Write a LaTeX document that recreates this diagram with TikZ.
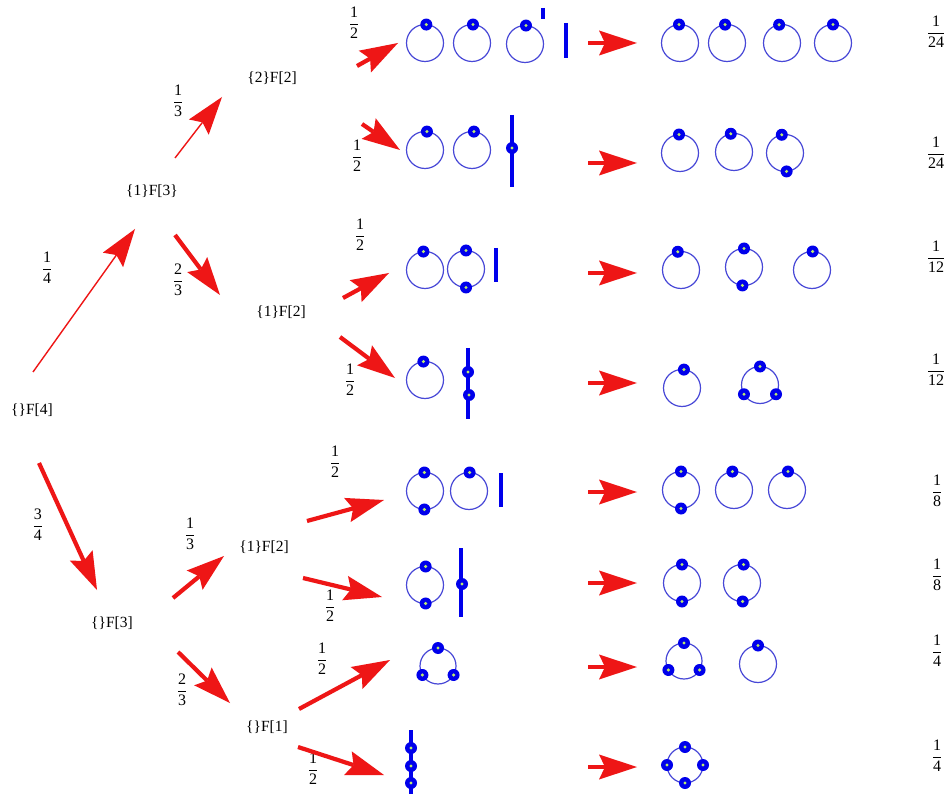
\documentclass[tikz,border=0pt]{standalone}
\usepackage{fontspec}
\setmainfont{Liberation Serif}
\usetikzlibrary{arrows.meta}
\definecolor{arr}{RGB}{238,22,22}
\definecolor{ringc}{RGB}{72,72,215}
\definecolor{dotb}{RGB}{0,0,235}
\definecolor{dotc}{RGB}{190,235,110}
\setlength{\arrayrulewidth}{0.9pt}
\newcommand\fr[2]{\begin{tabular}{@{}c@{}}#1\\\hline #2\end{tabular}}
\newcommand\loopc[4]{% name, position, radius, angles
  \coordinate (#1) at #2;
  \draw[ringline] (#1) circle (#3);
  \foreach \a in {#4}{\fill[dotb] ([shift={(\a:#3)}]#1) circle (6pt);
    \fill[dotc] ([shift={(\a:#3)}]#1) circle (1.7pt);}}
\newcommand\bdot[1]{\fill[dotb] #1 circle (6pt); \fill[dotc] #1 circle (1.7pt);}
\tikzset{
  lbl/.style={inner sep=0pt, font=\fontsize{15.5}{18}\selectfont},
  prob/.style={inner sep=0pt, font=\fontsize{16}{20}\selectfont},
  tipr/.tip={Stealth[length=38pt 0 0,width=25pt 0 0,inset=6pt 0,line width=0pt]},
  thinarr/.style={draw=arr, fill=arr, line width=1.4pt, -tipr},
  thickarr/.style={draw=arr, fill=arr, line width=4.2pt, -tipr},
  ringline/.style={draw=ringc, line width=1.2pt},
  vbar/.style={draw=dotb, line width=3.8pt},
}
\begin{document}
\begin{tikzpicture}[x=1pt,y=-1pt]
\useasboundingbox (0,0) rectangle (948,794);
\fill[white] (0,0) rectangle (948,794);
% tree labels
\node[lbl] (f4) at (32,410) {\{\}F[4]};
\node[lbl] (f13) at (152,191) {\{1\}F[3\}};
\node[lbl] (f22) at (272,78) {\{2\}F[2]};
\node[lbl] (f12a) at (281,312) {\{1\}F[2]};
\node[lbl] (f3) at (112,623) {\{\}F[3]};
\node[lbl] (f12b) at (264,547) {\{1\}F[2]};
\node[lbl] (f1) at (267,727) {\{\}F[1]};
% probability labels
\node[prob] (p14) at (47,269) {\fr{1}{4}};
\node[prob] (p34) at (38,526) {\fr{3}{4}};
\node[prob] (p13a) at (178,102) {\fr{1}{3}};
\node[prob] (p23a) at (178,281) {\fr{2}{3}};
\node[prob] (p13b) at (190,535) {\fr{1}{3}};
\node[prob] (p23b) at (182,691) {\fr{2}{3}};
\node[prob] (q1) at (354,24) {\fr{1}{2}};
\node[prob] (q2) at (357,157) {\fr{1}{2}};
\node[prob] (q3) at (360,236) {\fr{1}{2}};
\node[prob] (q4) at (350,381) {\fr{1}{2}};
\node[prob] (q5) at (335,463) {\fr{1}{2}};
\node[prob] (q6) at (330,607) {\fr{1}{2}};
\node[prob] (q7) at (322,660) {\fr{1}{2}};
\node[prob] (q8) at (313,770) {\fr{1}{2}};
\node[prob] (r1) at (936,33) {\fr{1}{24}};
\node[prob] (r2) at (936,154) {\fr{1}{24}};
\node[prob] (r3) at (936,258) {\fr{1}{12}};
\node[prob] (r4) at (936,371) {\fr{1}{12}};
\node[prob] (r5) at (937,492) {\fr{1}{8}};
\node[prob] (r6) at (937,576) {\fr{1}{8}};
\node[prob] (r7) at (937,652) {\fr{1}{4}};
\node[prob] (r8) at (937,757) {\fr{1}{4}};
% arrow end points
\coordinate (a1s) at (33,372);  \coordinate (a1e) at (135,229);
\coordinate (a2s) at (39,463);  \coordinate (a2e) at (97,590);
\coordinate (b1s) at (175,158); \coordinate (b1e) at (222,97);
\coordinate (b2s) at (175,235); \coordinate (b2e) at (220,295);
\coordinate (b3s) at (173,598); \coordinate (b3e) at (224,556);
\coordinate (b4s) at (178,652); \coordinate (b4e) at (230,703);
\coordinate (c1s) at (357,66);  \coordinate (c1e) at (398,43);
\coordinate (c2s) at (362,124); \coordinate (c2e) at (400,150);
\coordinate (c3s) at (343,298); \coordinate (c3e) at (389,273);
\coordinate (c4s) at (340,337); \coordinate (c4e) at (395,378);
\coordinate (c5s) at (307,521); \coordinate (c5e) at (384,500);
\coordinate (c6s) at (303,578); \coordinate (c6e) at (382,597);
\coordinate (c7s) at (299,709); \coordinate (c7e) at (390,660);
\coordinate (c8s) at (298,747); \coordinate (c8e) at (384,775);
\draw[thinarr] (a1s) -- (a1e);
\draw[thickarr] (a2s) -- (a2e);
\draw[thinarr] (b1s) -- (b1e);
\draw[thickarr] (b2s) -- (b2e);
\draw[thickarr] (b3s) -- (b3e);
\draw[thickarr] (b4s) -- (b4e);
\foreach \i in {1,...,8}{\draw[thickarr] (c\i s) -- (c\i e);}
\foreach \i/\y in {1/43,2/163,3/273,4/383,5/492,6/583,7/667,8/767}{
  \coordinate (h\i s) at (588,\y); \coordinate (h\i e) at (637,\y);
  \draw[thickarr] (h\i s) -- (h\i e);}
% row 1
\loopc{k11}{(425,43)}{18.5pt}{86}
\loopc{k12}{(472,43)}{18.5pt}{87}
\loopc{k13}{(525,44)}{18.5pt}{87}
\draw[vbar] (543,8) -- (543,19);
\draw[vbar] (566,23) -- (566,58);
\loopc{m11}{(680,43)}{18.5pt}{93}
\loopc{m12}{(727,43)}{18.5pt}{96}
\loopc{m13}{(782,43)}{18.5pt}{99}
\loopc{m14}{(833,43)}{18.5pt}{90}
% row 2
\loopc{k21}{(425,150)}{18.5pt}{84}
\loopc{k22}{(472,150)}{18.5pt}{84}
\draw[vbar] (512,115) -- (512,187);
\bdot{(512,148)}
\loopc{m21}{(680,153)}{18.5pt}{93}
\loopc{m22}{(734,152)}{18.5pt}{100}
\loopc{m23}{(785,153)}{18.5pt}{100,275}
% row 3
\loopc{k31}{(425,270)}{18.5pt}{95}
\loopc{k32}{(466,269)}{18.5pt}{90,270}
\draw[vbar] (496,248) -- (496,282);
\loopc{m31}{(681,270)}{18.5pt}{100}
\loopc{m32}{(744,267)}{18.5pt}{90,265}
\loopc{m33}{(812,270)}{18.5pt}{88}
% row 4
\loopc{k41}{(425,380)}{18.5pt}{95}
\draw[vbar] (468,348) -- (468,419);
\bdot{(468,372)} \bdot{(469,395)}
\loopc{m41}{(682,388)}{18.5pt}{84}
\loopc{m42}{(760,385)}{18.5pt}{90,210,330}
% row 5
\loopc{k51}{(425,491)}{18.5pt}{92,268}
\loopc{k52}{(469,491)}{18.5pt}{88}
\draw[vbar] (501,473) -- (501,507);
\loopc{m51}{(681,490)}{18.5pt}{90,270}
\loopc{m52}{(734,490)}{18.5pt}{95}
\loopc{m53}{(787,490)}{18.5pt}{87}
% row 6
\loopc{k61}{(425,585)}{18.5pt}{88,272}
\draw[vbar] (461,548) -- (461,617);
\bdot{(462,584)}
\loopc{m61}{(682,583)}{18.5pt}{90,270}
\loopc{m62}{(742,583)}{18.5pt}{85,272}
% row 7
\loopc{k71}{(438,666)}{18pt}{90,210,330}
\loopc{m71}{(684,661)}{18pt}{90,210,330}
\loopc{m72}{(758,664)}{18.5pt}{90}
% row 8
\draw[vbar] (411,730) -- (411,794);
\bdot{(411,748)} \bdot{(411,766)} \bdot{(411,783)}
\loopc{m81}{(685,765)}{18pt}{90,180,0,270}
\end{tikzpicture}
\end{document}
